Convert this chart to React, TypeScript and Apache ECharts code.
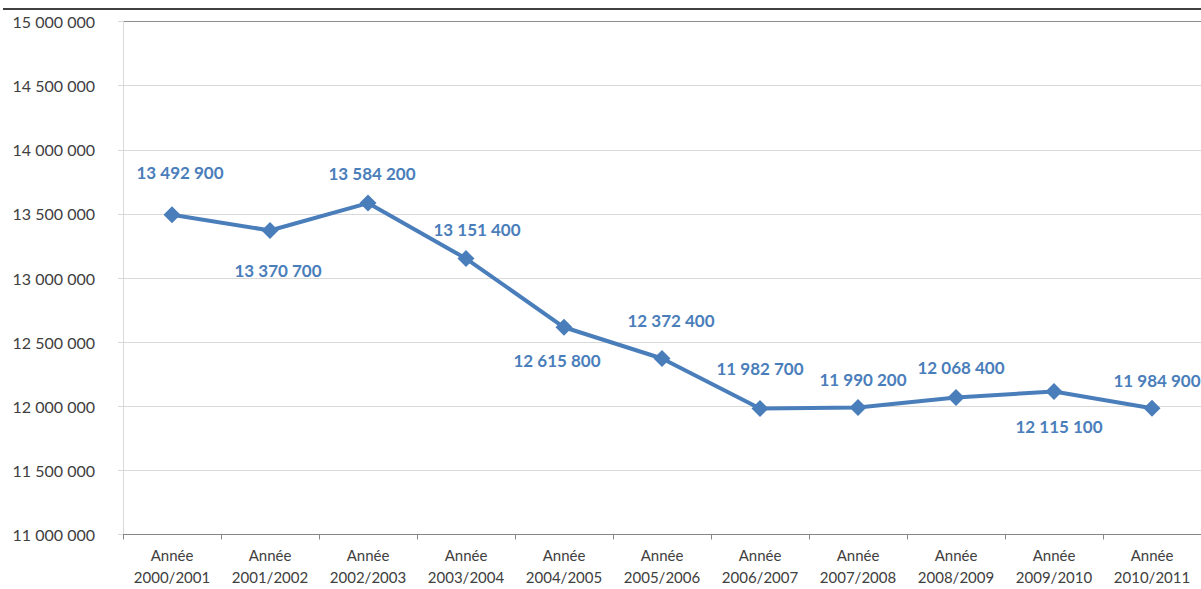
import React, { useEffect, useRef } from "react";
import * as echarts from "echarts";

const categories = [
  "Année\n2000/2001",
  "Année\n2001/2002",
  "Année\n2002/2003",
  "Année\n2003/2004",
  "Année\n2004/2005",
  "Année\n2005/2006",
  "Année\n2006/2007",
  "Année\n2007/2008",
  "Année\n2008/2009",
  "Année\n2009/2010",
  "Année\n2010/2011",
];

const values = [
  13492900, 13370700, 13584200, 13151400, 12615800, 12372400, 11982700,
  11990200, 12068400, 12115100, 11984900,
];

// label offsets relative to the marker centre [dx, dy]
const labelOffsets: [number, number][] = [
  [8, -42],
  [8, 40],
  [4, -30],
  [11, -29],
  [-7, 33],
  [9, -38],
  [0, -40],
  [5, -28],
  [5, -30],
  [5, 35],
  [5, -28],
];

const fmt = (v: number) =>
  String(Math.round(v)).replace(/\B(?=(\d{3})+(?!\d))/g, " ");

export default function App() {
  const ref = useRef<HTMLDivElement>(null);

  useEffect(() => {
    document.body.style.margin = "0";
    if (!ref.current) return;
    const chart = echarts.init(ref.current, undefined, { renderer: "svg" });
    const blue = "#4A7EBB";
    const gridColors = [
      "#D9D9D9",
      "#D9D9D9",
      "#D9D9D9",
      "#D9D9D9",
      "#D9D9D9",
      "#D9D9D9",
      "#D9D9D9",
      "#D9D9D9",
      "#8C8C8C",
    ];
    chart.setOption({
      animation: false,
      backgroundColor: "#ffffff",
      grid: { left: 123, right: -2, top: 21.5, bottom: 54.5, containLabel: false },
      xAxis: {
        type: "category",
        data: categories,
        boundaryGap: true,
        axisLine: { lineStyle: { color: "#868686", width: 1 } },
        axisTick: { show: true, length: 5, lineStyle: { color: "#868686" } },
        axisLabel: {
          color: "#404040",
          fontFamily: "Lato",
          fontSize: 15,
          lineHeight: 22,
          margin: 9,
          interval: 0,
        },
        splitLine: { show: false },
      },
      yAxis: {
        type: "value",
        min: 11000000,
        max: 15000000,
        interval: 500000,
        axisLine: { show: true, lineStyle: { color: "#D9D9D9" } },
        axisTick: { show: true, length: 5, lineStyle: { color: "#D9D9D9" } },
        axisLabel: {
          color: "#404040",
          fontFamily: "Lato",
          fontSize: 16,
          margin: 28,
          formatter: (v: number) => fmt(v),
        },
        splitLine: { show: true, lineStyle: { color: gridColors, width: 1 } },
      },
      graphic: [
        {
          type: "line",
          shape: { x1: 3, y1: 9, x2: 1201, y2: 9 },
          style: { stroke: "#000000", lineWidth: 1.5 },
          silent: true,
        },
      ],
      series: [
        {
          type: "line",
          data: values.map((v, i) => ({
            value: v,
            label: {
              show: true,
              position: "inside",
              offset: labelOffsets[i],
            },
          })),
          symbol: "diamond",
          symbolSize: 17,
          itemStyle: { color: blue },
          lineStyle: { color: blue, width: 4 },
          label: {
            show: true,
            color: blue,
            fontFamily: "Lato",
            fontWeight: "bold",
            fontSize: 17,
            formatter: (p: any) => fmt(p.value),
          },
        },
      ],
    });
    return () => chart.dispose();
  }, []);

  return <div ref={ref} style={{ width: 1201, height: 589 }} />;
}
